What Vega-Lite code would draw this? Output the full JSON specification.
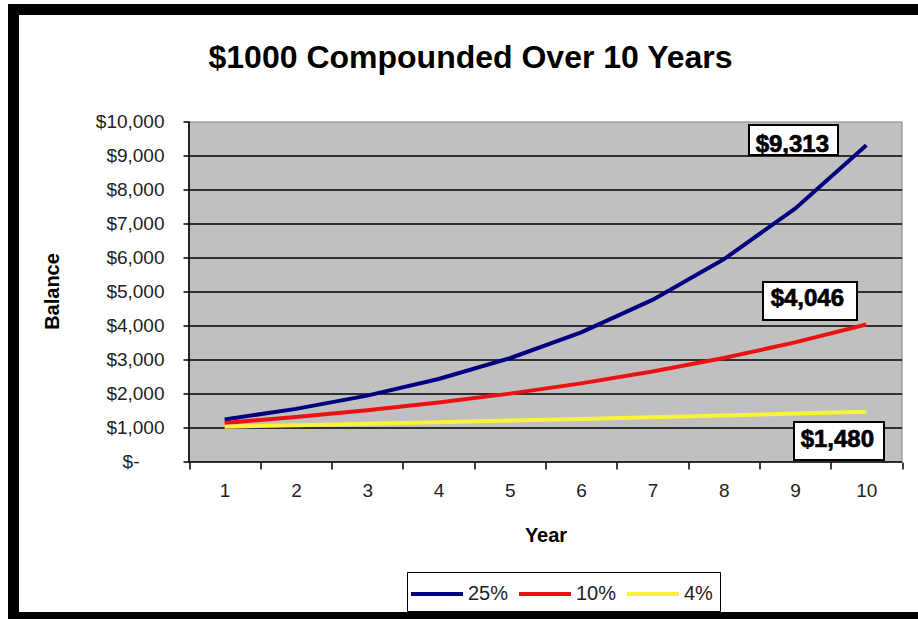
{
  "$schema": "https://vega.github.io/schema/vega-lite/v6.json",
  "width": 904.5,
  "height": 608,
  "autosize": {"type": "none"},
  "padding": {"left": 13.5, "top": 9.5, "right": 0, "bottom": 1.5},
  "background": "white",
  "view": {"fill": "white", "stroke": "black", "strokeWidth": 11},
  "title": {
    "text": "$1000 Compounded Over 10 Years",
    "font": "Liberation Sans",
    "fontSize": 32,
    "fontWeight": "bold",
    "color": "black",
    "anchor": "start",
    "dx": 195,
    "offset": -66
  },
  "config": {
    "font": "Liberation Sans"
  },
  "datasets": {
    "balances": [
      {"year": 1, "rate": "25%", "balance": 1250},
      {"year": 2, "rate": "25%", "balance": 1563},
      {"year": 3, "rate": "25%", "balance": 1953},
      {"year": 4, "rate": "25%", "balance": 2441},
      {"year": 5, "rate": "25%", "balance": 3052},
      {"year": 6, "rate": "25%", "balance": 3815},
      {"year": 7, "rate": "25%", "balance": 4768},
      {"year": 8, "rate": "25%", "balance": 5960},
      {"year": 9, "rate": "25%", "balance": 7451},
      {"year": 10, "rate": "25%", "balance": 9313},
      {"year": 1, "rate": "10%", "balance": 1150},
      {"year": 2, "rate": "10%", "balance": 1323},
      {"year": 3, "rate": "10%", "balance": 1521},
      {"year": 4, "rate": "10%", "balance": 1749},
      {"year": 5, "rate": "10%", "balance": 2011},
      {"year": 6, "rate": "10%", "balance": 2313},
      {"year": 7, "rate": "10%", "balance": 2660},
      {"year": 8, "rate": "10%", "balance": 3059},
      {"year": 9, "rate": "10%", "balance": 3518},
      {"year": 10, "rate": "10%", "balance": 4046},
      {"year": 1, "rate": "4%", "balance": 1040},
      {"year": 2, "rate": "4%", "balance": 1082},
      {"year": 3, "rate": "4%", "balance": 1125},
      {"year": 4, "rate": "4%", "balance": 1170},
      {"year": 5, "rate": "4%", "balance": 1217},
      {"year": 6, "rate": "4%", "balance": 1265},
      {"year": 7, "rate": "4%", "balance": 1316},
      {"year": 8, "rate": "4%", "balance": 1369},
      {"year": 9, "rate": "4%", "balance": 1423},
      {"year": 10, "rate": "4%", "balance": 1480}
    ],
    "grid": [
      {"g": 1000}, {"g": 2000}, {"g": 3000}, {"g": 4000}, {"g": 5000},
      {"g": 6000}, {"g": 7000}, {"g": 8000}, {"g": 9000}
    ],
    "one": [{}]
  },
  "layer": [
    {
      "data": {"name": "one"},
      "mark": {"type": "rule", "color": "white", "strokeWidth": 12},
      "encoding": {
        "x": {"datum": 10.7244, "type": "quantitative", "scale": {"domain": [-1.96143, 10.7244], "nice": false, "zero": false}},
        "y": {"datum": 13147, "type": "quantitative", "scale": {"domain": [-4573.53, 13308.82], "nice": false, "zero": false}},
        "y2": {"datum": -4412}
      }
    },
    {
      "data": {"name": "one"},
      "mark": {"type": "rect", "fill": "#c0c0c0", "stroke": "#808080", "strokeWidth": 1},
      "encoding": {
        "x": {"datum": 0.5, "type": "quantitative", "scale": {"domain": [-1.96143, 10.7244], "nice": false, "zero": false}},
        "x2": {"datum": 10.5},
        "y": {"datum": 0, "type": "quantitative", "scale": {"domain": [-4573.53, 13308.82], "nice": false, "zero": false}},
        "y2": {"datum": 10000}
      }
    },
    {
      "data": {"name": "grid"},
      "mark": {"type": "rule", "color": "black", "strokeWidth": 1.3},
      "encoding": {
        "x": {"datum": 0.5, "type": "quantitative", "scale": {"domain": [-1.96143, 10.7244], "nice": false, "zero": false}},
        "x2": {"datum": 10.5},
        "y": {"field": "g", "type": "quantitative", "scale": {"domain": [-4573.53, 13308.82], "nice": false, "zero": false}}
      }
    },
    {
      "data": {"name": "one"},
      "mark": {"type": "rule", "color": "black", "strokeWidth": 1.6},
      "encoding": {
        "x": {"datum": 0.5, "type": "quantitative", "scale": {"domain": [-1.96143, 10.7244], "nice": false, "zero": false}},
        "y": {"datum": 0, "type": "quantitative", "scale": {"domain": [-4573.53, 13308.82], "nice": false, "zero": false}},
        "y2": {"datum": 10000}
      }
    },
    {
      "data": {"name": "one"},
      "mark": {"type": "rule", "color": "black", "strokeWidth": 1.6},
      "encoding": {
        "x": {"datum": 0.5, "type": "quantitative", "scale": {"domain": [-1.96143, 10.7244], "nice": false, "zero": false}},
        "x2": {"datum": 10.5},
        "y": {"datum": 0, "type": "quantitative", "scale": {"domain": [-4573.53, 13308.82], "nice": false, "zero": false}}
      }
    },
    {
      "data": {"name": "balances"},
      "mark": {"type": "line", "strokeWidth": 4},
      "encoding": {
        "x": {
          "field": "year", "type": "quantitative",
          "scale": {"domain": [-1.96143, 10.7244], "nice": false, "zero": false},
          "axis": {
            "orient": "bottom", "offset": -155.5, "zindex": 1,
            "values": [0.5, 1, 1.5, 2, 2.5, 3, 3.5, 4, 4.5, 5, 5.5, 6, 6.5, 7, 7.5, 8, 8.5, 9, 9.5, 10, 10.5],
            "labelExpr": "datum.value % 1 == 0 ? format(datum.value, 'd') : ''",
            "labelOverlap": false, "labelFlush": false,
            "domain": false, "grid": false,
            "ticks": true, "tickSize": 7, "tickColor": "black", "tickWidth": 1.5,
            "tickOpacity": {"condition": {"test": "datum.value % 1 == 0", "value": 0}, "value": 1},
            "labelFont": "Liberation Sans", "labelFontSize": 19, "labelColor": "#222", "labelPadding": 12,
            "title": "Year", "titleFont": "Liberation Sans", "titleFontSize": 20, "titleFontWeight": "bold", "titleColor": "black",
            "titleX": 532, "titlePadding": 25
          }
        },
        "y": {
          "field": "balance", "type": "quantitative",
          "scale": {"domain": [-4573.53, 13308.82], "nice": false, "zero": false},
          "axis": {
            "orient": "left", "offset": -175.5, "zindex": 1,
            "values": [0, 1000, 2000, 3000, 4000, 5000, 6000, 7000, 8000, 9000, 10000],
            "labelExpr": "datum.value == 0 ? '$-' : '$' + format(datum.value, ',')",
            "labelOverlap": false, "labelFlush": false,
            "domain": false, "grid": false,
            "ticks": true, "tickSize": 6, "tickColor": "black", "tickWidth": 1.5,
            "labelFont": "Liberation Sans", "labelFontSize": 19, "labelColor": "#222",
            "labelPadding": {"condition": {"test": "datum.value == 0", "value": 44}, "value": 19},
            "title": "Balance", "titleFont": "Liberation Sans", "titleFontSize": 20, "titleFontWeight": "bold", "titleColor": "black",
            "titleY": 281.5, "titlePadding": 33
          }
        },
        "color": {
          "field": "rate", "type": "nominal",
          "scale": {"domain": ["25%", "10%", "4%"], "range": ["#000080", "#ee1111", "#fbf23a"]},
          "legend": {
            "orient": "none", "legendX": 393.5, "legendY": 562.5, "direction": "horizontal",
            "title": null, "symbolType": "M-2,0H2", "symbolSize": 676, "symbolStrokeWidth": 4, "symbolOffset": 8,
            "labelFont": "Liberation Sans", "labelFontSize": 20, "labelColor": "#222", "labelOffset": 16,
            "columnPadding": 2, "padding": 7, "strokeColor": "black", "fillColor": "white"
          }
        }
      }
    },
    {
      "data": {"name": "balances"},
      "transform": [{"filter": "datum.year == 10 && datum.rate == '25%'"}],
      "mark": {"type": "rect", "fill": "white", "stroke": "black", "strokeWidth": 2, "xOffset": -117.35, "x2Offset": -28.35, "yOffset": -20.4, "y2Offset": 9.6},
      "encoding": {
        "x": {"field": "year", "type": "quantitative", "scale": {"domain": [-1.96143, 10.7244], "nice": false, "zero": false}},
        "x2": {"field": "year"},
        "y": {"field": "balance", "type": "quantitative", "scale": {"domain": [-4573.53, 13308.82], "nice": false, "zero": false}},
        "y2": {"field": "balance"}
      }
    },
    {
      "data": {"name": "balances"},
      "transform": [{"filter": "datum.year == 10 && datum.rate == '25%'"}],
      "mark": {"type": "text", "font": "Liberation Sans", "fontSize": 24, "fontWeight": "bold", "fill": "black", "stroke": "black", "strokeWidth": 0.7, "align": "center", "baseline": "middle", "dx": -74, "dy": 0},
      "encoding": {
        "x": {"field": "year", "type": "quantitative", "scale": {"domain": [-1.96143, 10.7244], "nice": false, "zero": false}},
        "y": {"field": "balance", "type": "quantitative", "scale": {"domain": [-4573.53, 13308.82], "nice": false, "zero": false}},
        "text": {"field": "balance", "type": "quantitative", "format": "$,.0f"}
      }
    },
    {
      "data": {"name": "balances"},
      "transform": [{"filter": "datum.year == 10 && datum.rate == '10%'"}],
      "mark": {"type": "rect", "fill": "white", "stroke": "black", "strokeWidth": 2, "xOffset": -103.35, "x2Offset": -9.35, "yOffset": -42.4, "y2Offset": -4.4},
      "encoding": {
        "x": {"field": "year", "type": "quantitative", "scale": {"domain": [-1.96143, 10.7244], "nice": false, "zero": false}},
        "x2": {"field": "year"},
        "y": {"field": "balance", "type": "quantitative", "scale": {"domain": [-4573.53, 13308.82], "nice": false, "zero": false}},
        "y2": {"field": "balance"}
      }
    },
    {
      "data": {"name": "balances"},
      "transform": [{"filter": "datum.year == 10 && datum.rate == '10%'"}],
      "mark": {"type": "text", "font": "Liberation Sans", "fontSize": 24, "fontWeight": "bold", "fill": "black", "stroke": "black", "strokeWidth": 0.7, "align": "center", "baseline": "middle", "dx": -59, "dy": -25},
      "encoding": {
        "x": {"field": "year", "type": "quantitative", "scale": {"domain": [-1.96143, 10.7244], "nice": false, "zero": false}},
        "y": {"field": "balance", "type": "quantitative", "scale": {"domain": [-4573.53, 13308.82], "nice": false, "zero": false}},
        "text": {"field": "balance", "type": "quantitative", "format": "$,.0f"}
      }
    },
    {
      "data": {"name": "balances"},
      "transform": [{"filter": "datum.year == 10 && datum.rate == '4%'"}],
      "mark": {"type": "rect", "fill": "white", "stroke": "black", "strokeWidth": 2, "xOffset": -72.35, "x2Offset": 17.65, "yOffset": 10.3, "y2Offset": 48.3},
      "encoding": {
        "x": {"field": "year", "type": "quantitative", "scale": {"domain": [-1.96143, 10.7244], "nice": false, "zero": false}},
        "x2": {"field": "year"},
        "y": {"field": "balance", "type": "quantitative", "scale": {"domain": [-4573.53, 13308.82], "nice": false, "zero": false}},
        "y2": {"field": "balance"}
      }
    },
    {
      "data": {"name": "balances"},
      "transform": [{"filter": "datum.year == 10 && datum.rate == '4%'"}],
      "mark": {"type": "text", "font": "Liberation Sans", "fontSize": 24, "fontWeight": "bold", "fill": "black", "stroke": "black", "strokeWidth": 0.7, "align": "center", "baseline": "middle", "dx": -29, "dy": 28},
      "encoding": {
        "x": {"field": "year", "type": "quantitative", "scale": {"domain": [-1.96143, 10.7244], "nice": false, "zero": false}},
        "y": {"field": "balance", "type": "quantitative", "scale": {"domain": [-4573.53, 13308.82], "nice": false, "zero": false}},
        "text": {"field": "balance", "type": "quantitative", "format": "$,.0f"}
      }
    }
  ]
}
